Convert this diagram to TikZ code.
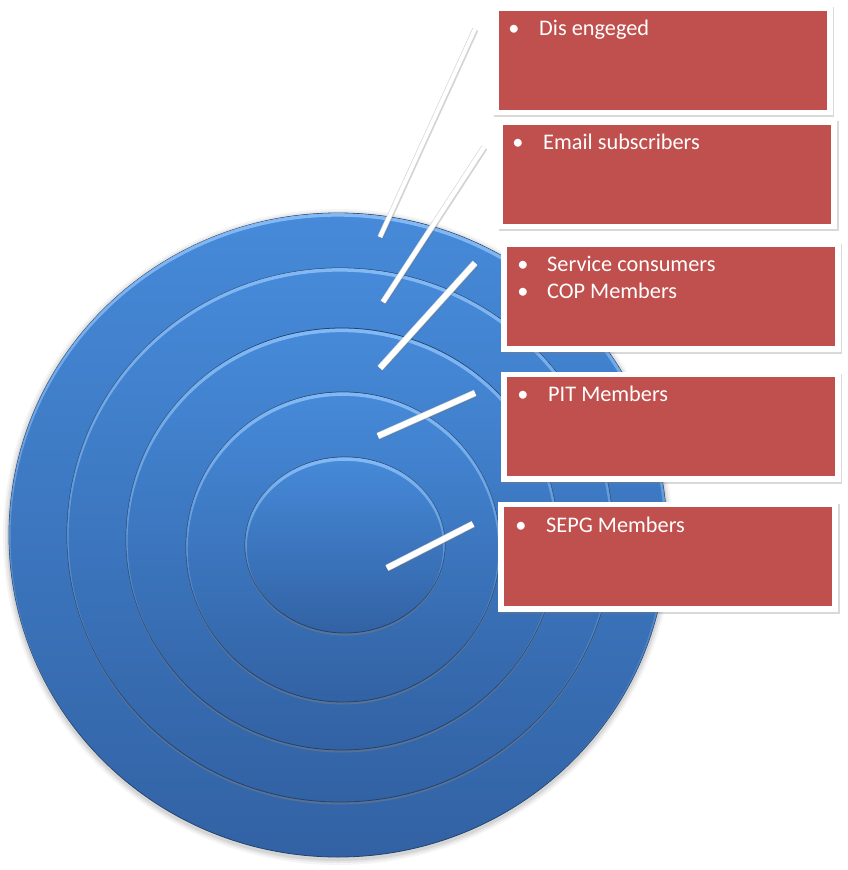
\documentclass[tikz,border=0pt]{standalone}
\usepackage{fontspec}
\setmainfont{Carlito}
\usetikzlibrary{shadows,fadings}
\definecolor{ringtop}{HTML}{468AD9}
\definecolor{ringbot}{HTML}{3262A4}
\definecolor{ringedge}{HTML}{23436F}
\definecolor{ringhi}{HTML}{8EC2FA}
\definecolor{boxred}{HTML}{C0504D}
\tikzfading[name=fadetop, top color=transparent!0, middle color=transparent!100, bottom color=transparent!100]
\tikzset{
  ring/.style={top color=ringtop, bottom color=ringbot, draw=ringedge, line width=0.8pt},
  ringshadow/.style={drop shadow={opacity=0.45, shadow xshift=0pt, shadow yshift=-2.5pt}},
  hilite/.style={draw=ringhi, line width=3.5pt, opacity=0.85, path fading=fadetop},
  callout/.style={fill=white, minimum width=340pt, minimum height=110pt, inner sep=0pt,
    drop shadow={opacity=0.3, shadow xshift=1.5pt, shadow yshift=-2pt},
    path picture={\fill[boxred] ([shift={(6pt,-5.5pt)}]path picture bounding box.north west)
      rectangle ([shift={(-6pt,5.5pt)}]path picture bounding box.south east);}},
  spoke/.style={draw=white, line width=#1,
    preaction={draw=black!55, opacity=0.3, line width=#1, transform canvas={shift={(1.3pt,-1.3pt)}}},
    preaction={draw=black!18, line width=#1+1.2pt}},
  lbl/.style={text=white, font=\fontsize{22.3}{26}\selectfont, inner sep=0pt, anchor=base west},
  bul/.style={text=white, font=\fontsize{22.3}{26}\selectfont, inner sep=0pt, anchor=base},
}
\begin{document}
\begin{tikzpicture}[x=1pt,y=-1pt]
\useasboundingbox (0,0) rectangle (847,870);
% soft shadow of the target
\foreach \d/\o in {6/0.04,4/0.06,2/0.08}{
  \fill[black,opacity=\o] (338,537) ellipse [x radius=329+\d, y radius=322+\d];
}
% rings
\path[ring] (338,535) ellipse [x radius=329, y radius=322];
\begin{scope}\clip (338,535) ellipse [x radius=329, y radius=322];
  \draw[hilite] (338,537) ellipse [x radius=329, y radius=322];\end{scope}
\path[ring,ringshadow] (340,535) ellipse [x radius=273, y radius=267];
\begin{scope}\clip (340,535) ellipse [x radius=273, y radius=267];
  \draw[hilite] (340,537) ellipse [x radius=273, y radius=267];\end{scope}
\path[ring,ringshadow] (342,539) ellipse [x radius=216, y radius=211];
\begin{scope}\clip (342,539) ellipse [x radius=216, y radius=211];
  \draw[hilite] (342,541) ellipse [x radius=216, y radius=211];\end{scope}
\path[ring,ringshadow] (343,547) ellipse [x radius=157, y radius=155];
\begin{scope}\clip (343,547) ellipse [x radius=157, y radius=155];
  \draw[hilite] (343,549) ellipse [x radius=157, y radius=155];\end{scope}
\path[ring,ringshadow] (345,545) ellipse [x radius=100, y radius=88];
\begin{scope}\clip (345,545) ellipse [x radius=100, y radius=88];
  \draw[hilite] (345,547) ellipse [x radius=100, y radius=88];\end{scope}
% spoke end points
\coordinate (s1a) at (380,237); \coordinate (s1b) at (475,29);
\coordinate (s2a) at (383,302); \coordinate (s2b) at (484,147);
\coordinate (s3a) at (380,368); \coordinate (s3b) at (475,263);
\coordinate (s4a) at (378,436); \coordinate (s4b) at (475,393);
\coordinate (s5a) at (387,568); \coordinate (s5b) at (473,524);
\draw[spoke=4pt] (s1a) -- (s1b);
\draw[spoke=4.5pt] (s2a) -- (s2b);
\draw[spoke=5.5pt] (s3a) -- (s3b);
\draw[spoke=5.5pt] (s4a) -- (s4b);
\draw[spoke=5.5pt] (s5a) -- (s5b);
% callout boxes
\node[callout] (b1) at (662.5,60) {};
\node[callout] (b2) at (667,174) {};
\node[callout] (b3) at (670.5,296.5) {};
\node[callout] (b4) at (670.5,426.5) {};
\node[callout] (b5) at (668,556.5) {};
% texts
\node[bul] (d1) at (514,35) {•};
\node[lbl] (t1) at (539,35) {Dis engeged};
\node[bul] (d2) at (518,149) {•};
\node[lbl] (t2) at (543,149) {Email subscribers};
\node[bul] (d3) at (523,271) {•};
\node[lbl] (t3) at (547,271) {Service consumers};
\node[bul] (d3b) at (523,298) {•};
\node[lbl] (t3b) at (547,298) {COP Members};
\node[bul] (d4) at (523,401) {•};
\node[lbl] (t4) at (548,401) {PIT Members};
\node[bul] (d5) at (521,532) {•};
\node[lbl] (t5) at (546,532) {SEPG Members};
\end{tikzpicture}
\end{document}
